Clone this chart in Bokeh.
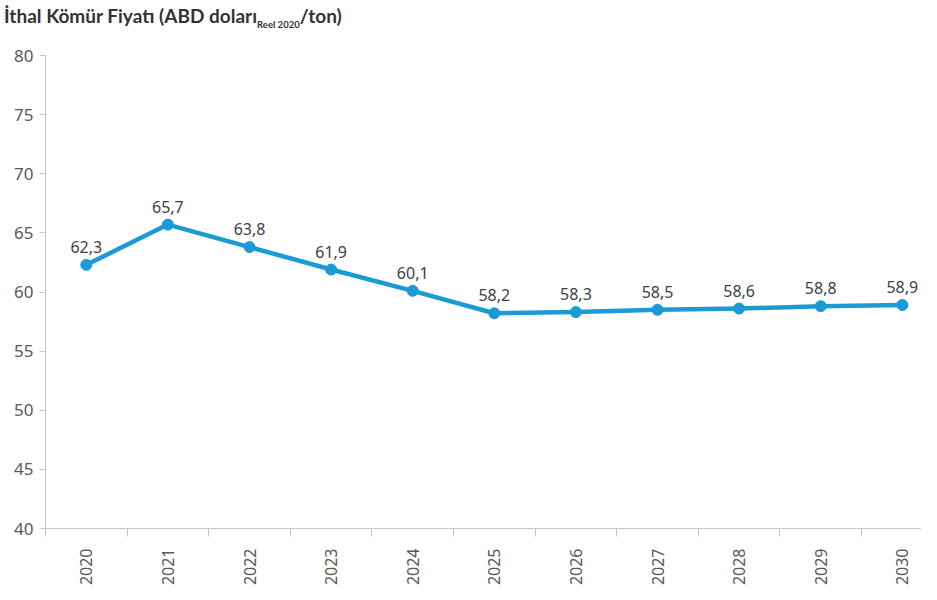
import math
from bokeh.plotting import figure
from bokeh.layouts import column
from bokeh.models import (ColumnDataSource, FixedTicker, Range1d, LinearAxis, Div)
from bokeh.core.properties import value
from bokeh.embed import file_html
from bokeh.resources import INLINE

years = ["2020", "2021", "2022", "2023", "2024", "2025", "2026", "2027", "2028", "2029", "2030"]
prices = [62.3, 65.7, 63.8, 61.9, 60.1, 58.2, 58.3, 58.5, 58.6, 58.8, 58.9]
y_ticks = [40, 45, 50, 55, 60, 65, 70, 75, 80]

title_main = "İthal Kömür Fiyatı (ABD doları"
title_sub = "Reel 2020"
title_end = "/ton)"

W = 921
TH = 38

# ---- title (real HTML text, with a subscript) ----
title_html = (
    '<div style="font-family:Lato,sans-serif;font-weight:bold;font-size:19px;color:#333333;'
    'line-height:19px;padding:6px 0 0 4px;white-space:nowrap;">'
    f'{title_main}<sub style="font-size:9.5px;line-height:0;vertical-align:-5px;">{title_sub}</sub>'
    f'{title_end}</div>'
)
t = Div(text=title_html, width=W, height=TH, margin=(0, 0, 0, 0))

# ---- main chart ----
xs = list(range(len(years)))
labels = [f"{v:.1f}".replace(".", ",") for v in prices]
src = ColumnDataSource(dict(x=xs, y=prices, lab=labels))

B_LEFT, B_TOP = 45, 17
FW, FH = W - 45, 473
X0, X1, Y0, Y1 = -0.5, 10.235, 40, 80
p = figure(frame_width=FW, frame_height=FH, output_backend="svg", toolbar_location=None,
           x_range=Range1d(X0, X1), y_range=Range1d(Y0, Y1),
           x_axis_type=None, y_axis_type=None,
           min_border_left=B_LEFT, min_border_right=0, min_border_top=B_TOP,
           min_border_bottom=10)
p.outline_line_color = None
p.background_fill_color = "white"
p.border_fill_color = "white"

# y axis
yax = LinearAxis(ticker=FixedTicker(ticks=y_ticks))
yax.axis_line_color = "#c8c8c8"
yax.major_tick_line_color = "#c8c8c8"
yax.major_tick_out = 6
yax.major_tick_in = 0
yax.minor_tick_line_color = None
yax.major_label_text_font = "Noto Sans"
yax.major_label_text_font_size = "17px"
yax.major_label_text_color = "#595959"
yax.major_label_standoff = 6
p.add_layout(yax, "left")

# x axis
boundaries = [i - 0.5 for i in range(len(years) + 1)]
xax = LinearAxis(ticker=FixedTicker(ticks=xs, minor_ticks=boundaries))
xax.axis_line_color = "#c8c8c8"
xax.major_tick_line_color = None
xax.major_tick_out = 0
xax.major_tick_in = 0
xax.minor_tick_line_color = "#c8c8c8"
xax.minor_tick_out = 8
xax.minor_tick_in = 0
xax.major_label_overrides = {i: y for i, y in enumerate(years)}
xax.major_label_orientation = math.pi / 2
xax.major_label_text_font = "Noto Sans"
xax.major_label_text_font_size = "16px"
xax.major_label_text_color = "#595959"
xax.major_label_standoff = 12
p.add_layout(xax, "below")

p.xgrid.visible = False
p.ygrid.ticker = FixedTicker(ticks=y_ticks)
p.ygrid.grid_line_color = "#d9d9d9"
p.ygrid.grid_line_width = 1

color = "#1b9ad6"
p.line("x", "y", source=src, line_color=color, line_width=4.5, line_join="round")
p.scatter("x", "y", source=src, size=11, fill_color=color, line_color=color)
p.text("x", "y", text="lab", source=src, text_align="center", text_baseline="bottom",
       y_offset=-12, text_font=value("Noto Sans"), text_font_size="16px", text_color="#404040")

layout = column(t, p, spacing=0)
open("out.html", "w").write(file_html(layout, INLINE))
